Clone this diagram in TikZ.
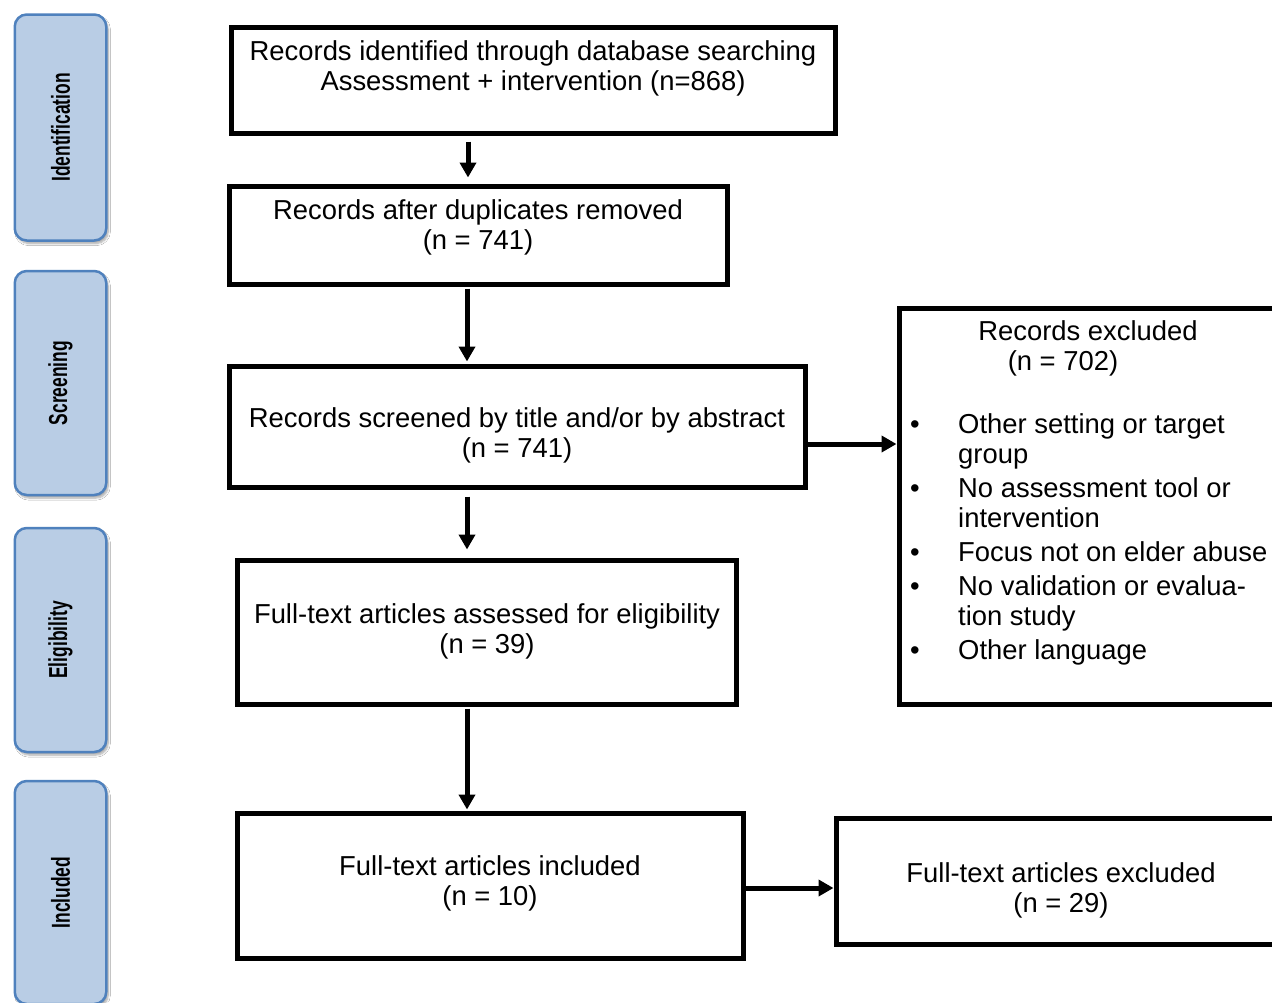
\documentclass[tikz,border=0pt]{standalone}
\usepackage{fontspec}
\setmainfont{Liberation Sans}
\usetikzlibrary{arrows.meta,shadows.blur}
\definecolor{sidefill}{HTML}{B9CDE5}
\definecolor{sideline}{HTML}{4F81BD}
\newcommand{\mainfs}{\fontsize{27.4pt}{30pt}\selectfont}
\newcommand{\sidefs}{\fontsize{26pt}{30pt}\selectfont\bfseries}
\newcommand{\twolines}[2]{\begin{tabular}[t]{@{}c@{}}#1\\#2\end{tabular}}
\begin{document}
\begin{tikzpicture}[x=1pt,y=-1pt,
  box/.style={draw=black, line width=5pt, inner sep=0pt},
  txt/.style={inner sep=0pt, anchor=base, font=\mainfs},
  arr/.style={line width=5pt, -{Triangle[width=16pt,length=15pt]}},
  side/.style={draw=sideline, line width=2.5pt, fill=sidefill, rounded corners=12pt,
    blur shadow={shadow xshift=2pt, shadow yshift=-3pt, shadow blur steps=6, shadow opacity=35}},
  sidetxt/.style={rotate=90, inner sep=0pt, font=\sidefs}]
\clip (0,0) rectangle (1272,1002);
\fill[white] (0,0) rectangle (1272,1002);

% side phase boxes
\node[side, minimum width=91.5pt, minimum height=226pt] (sId) at (60.5,127.5) {};
\node[sidetxt] (sIdT) at (sId.center) {\scalebox{0.67}[1]{Identification}};
\node[side, minimum width=91.5pt, minimum height=224pt] (sSc) at (60.5,383) {};
\node[sidetxt] (sScT) at (sSc.center) {\scalebox{0.67}[1]{Screening}};
\node[side, minimum width=91.5pt, minimum height=224pt] (sEl) at (60.5,640) {};
\node[sidetxt] (sElT) at (sEl.center) {\scalebox{0.67}[1]{Eligibility}};
\node[side, minimum width=91.5pt, minimum height=223pt] (sIn) at (60.5,892.5) {};
\node[sidetxt] (sInT) at (sIn.center) {\scalebox{0.67}[1]{Included}};

% boxes
\node[box, minimum width=604pt, minimum height=106pt] (b1) at (533,80) {};
\node[box, minimum width=498pt, minimum height=98pt] (b2) at (478,235) {};
\node[box, minimum width=576pt, minimum height=121pt] (b3) at (517,426.5) {};
\node[box, minimum width=401pt, minimum height=396pt] (b4) at (1099.5,506) {};
\node[box, minimum width=499pt, minimum height=144pt] (b5) at (486.5,632) {};
\node[box, minimum width=506pt, minimum height=145pt] (b6) at (490,885.5) {};
\node[box, minimum width=464pt, minimum height=126pt] (b7) at (1068,881) {};

% texts
\node[txt] (t1) at (533,60) {\twolines{Records identified through database searching}{Assessment + intervention (n=868)}};
\node[txt] (t2) at (478,219) {\twolines{Records after duplicates removed}{(n = 741)}};
\node[txt] (t3) at (517,427) {\twolines{Records screened by title and/or by abstract}{(n = 741)}};
\node[txt] (t5) at (487,623) {\twolines{Full-text articles assessed for eligibility}{(n = 39)}};
\node[txt] (t6) at (490,875) {\twolines{Full-text articles included}{(n = 10)}};
\node[txt] (t7) at (1061,882) {\twolines{Full-text articles excluded}{(n = 29)}};
\node[txt] (t4a) at (1088,340) {Records excluded};
\node[txt] (t4b) at (1063,370) {(n = 702)};
\node[txt, anchor=base west] (t4c) at (910,433) {\begin{tabular}[t]{@{}l@{}l@{}}
\makebox[48pt][l]{•} & Other setting or target\\
 & group\\[4pt]
• & No assessment tool or\\
 & intervention\\[4pt]
• & Focus not on elder abuse\\[4pt]
• & No validation or evalua-\\
 & tion study\\[4pt]
• & Other language
\end{tabular}};

% connectors
\coordinate (ax1) at (468,0);
\coordinate (ax2) at (467,0);
\coordinate (ay1) at (0,444);
\coordinate (ay2) at (0,888);
\draw[arr, shorten <=6pt, shorten >=6pt] (b1.south -| ax1) -- (b2.north -| ax1);
\draw[arr, shorten <=2pt, shorten >=2pt] (b2.south -| ax2) -- (b3.north -| ax2);
\draw[arr, shorten <=7pt, shorten >=8pt] (b3.south -| ax2) -- (b5.north -| ax2);
\draw[arr, shorten <=2pt, shorten >=1pt] (b5.south -| ax2) -- (b6.north -| ax2);
\draw[arr] (b3.east |- ay1) -- (b4.west |- ay1);
\draw[arr] (b6.east |- ay2) -- (b7.west |- ay2);
\end{tikzpicture}
\end{document}
